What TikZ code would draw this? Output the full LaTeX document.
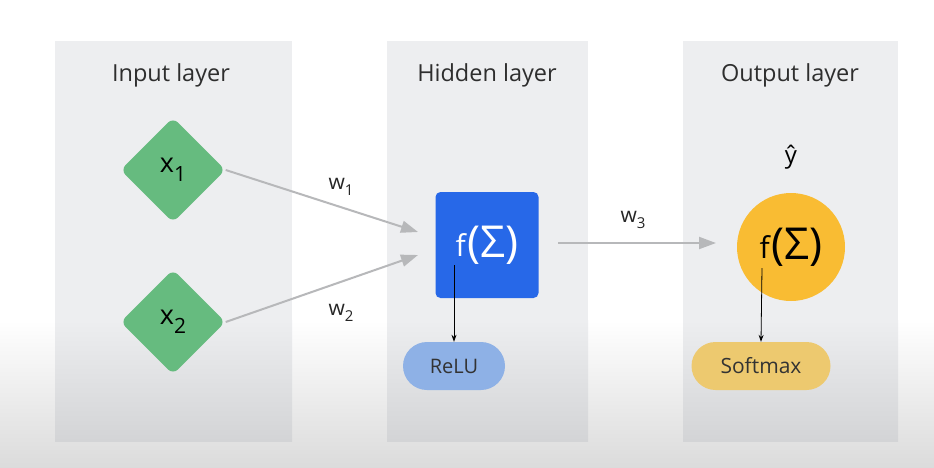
\documentclass[tikz,border=0pt]{standalone}
\usepackage{fontspec}
\setmainfont{Open Sans}
\usetikzlibrary{shapes.geometric,arrows.meta}
\definecolor{panelgray}{HTML}{EDEEF0}
\definecolor{paneldark}{HTML}{D3D4D6}
\definecolor{inputgreen}{HTML}{66BB7F}
\definecolor{hiddenblue}{HTML}{2768E8}
\definecolor{relublue}{HTML}{8EB1E6}
\definecolor{outyellow}{HTML}{F9BC33}
\definecolor{softyellow}{HTML}{EDC96F}
\definecolor{wiregray}{HTML}{B7B8BA}
\definecolor{titlegray}{HTML}{2E2E2E}
\newcommand{\fsz}[1]{\fontsize{#1}{#1}\selectfont}
\begin{document}
\begin{tikzpicture}[x=1pt, y=-1pt,
			inp/.style={diamond, fill=inputgreen, rounded corners=7pt, inner sep=0pt, minimum width=105pt, minimum height=105pt, font=\fsz{27}},
			hid/.style={rectangle, fill=hiddenblue, rounded corners=5pt, minimum width=103pt, minimum height=106pt, text=white},
			outp/.style={circle, fill=outyellow, minimum size=108pt, inner sep=0pt},
			act/.style={rounded corners=24pt, minimum height=48pt, font=\fsz{20}, text=black!80},
			ttl/.style={font=\fsz{23.5}, text=titlegray},
			wlbl/.style={font=\fsz{21}, text=black!85},
			wire/.style={draw=wiregray, line width=2pt, -{Triangle[length=17pt, width=12pt]}},
			down/.style={black, line width=0.8pt, -{Stealth[length=7pt, width=5pt]}}
			]
			% background and panels
			\fill[white] (0,0) rectangle (934,467);
			\shade[top color=white, bottom color=black!14] (0,320) rectangle (934,467);
			\foreach \xa/\xb in {55/292, 387/588, 683/898} {
				\fill[panelgray] (\xa,41) rectangle (\xb,321);
				\shade[top color=panelgray, bottom color=paneldark] (\xa,320) rectangle (\xb,441);
			}
			% titles
			\node[ttl] (tin) at (171,75) {Input layer};
			\node[ttl] (thid) at (487,75) {Hidden layer};
			\node[ttl] (tout) at (790,75) {Output layer};
			% input layer
			\node[inp] (x1) at (173,170) {x\raisebox{-0.35em}{\fsz{21}1}};
			\node[inp] (x2) at (173,322) {x\raisebox{-0.35em}{\fsz{21}2}};
			% hidden layer
			\node[hid] (h) at (487,245) {\raisebox{0.08em}{\fsz{30}f}\,\fsz{44}(Σ)};
			\node[act, fill=relublue, minimum width=102pt] (relu) at (454,366) {ReLU};
			\coordinate (hin1) at (418,232);
			\coordinate (hin2) at (418,255);
			\coordinate (hf) at (454,265);
			% output layer
			\node[outp] (o) at (791,247) {\raisebox{0.08em}{\fsz{30}f}\,\fsz{44}(Σ)};
			\node[font=\fsz{24}] (yhat) at (791,157) {ŷ};
			\node[act, fill=softyellow, minimum width=139pt, font=\fsz{21}] (soft) at (761,366) {Softmax};
			\coordinate (hout) at (558,243);
			\coordinate (oin) at (716,243);
			\coordinate (of) at (762,268);
			% connectors
			\draw[wire] (x1.east) -- (hin1);
			\draw[wire] (x2.east) -- (hin2);
			\draw[wire] (hout) -- (oin);
			\draw[down] (hf) -- (relu.north);
			\draw[down] (of) -- (soft.north);
			\node[wlbl] (w1) at (341,187) {w\raisebox{-0.3em}{\fsz{15}1}};
			\node[wlbl] (w2) at (341,313) {w\raisebox{-0.3em}{\fsz{15}2}};
			\node[wlbl] (w3) at (633,220) {w\raisebox{-0.3em}{\fsz{15}3}};
		\end{tikzpicture}
\end{document}
